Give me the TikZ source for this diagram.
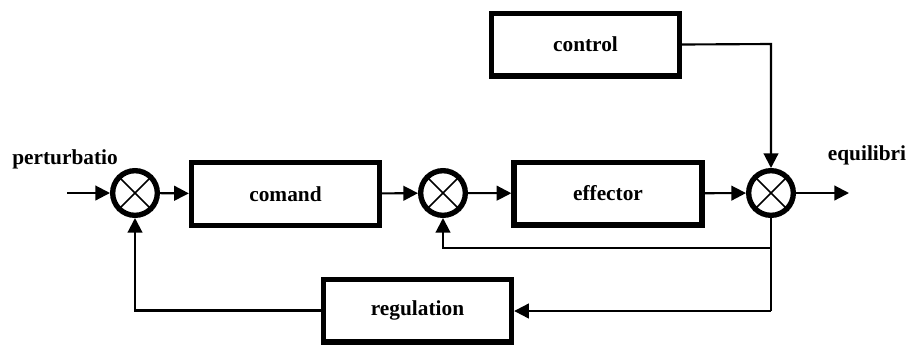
\documentclass[tikz,border=0pt]{standalone}
\usepackage{fontspec}
\setmainfont{Liberation Serif}
\usepackage{tikz}
\usetikzlibrary{arrows.meta}

\begin{document}
\begin{tikzpicture}[
      x=0.75pt, y=-0.75pt,
      every node/.style={font=\fontsize{16}{18}\selectfont\bfseries},
      box/.style={draw, line width=4pt, minimum width=141pt,
                  minimum height=47pt, inner sep=0pt},
      sum/.style={circle, draw, line width=4pt, minimum size=33.5pt,
                  inner sep=0pt},
      arr/.style={-{Triangle[length=11pt, width=11pt]}, line width=1.6pt},
      wire/.style={line width=1.6pt},
      cross/.style={line width=1.2pt},
    ]
    \useasboundingbox (0,0) rectangle (909,344);

    %% Main chain
    \node[sum] (sum1) at (135,193) {};
    \node[box] (comand)   at (285.5,194) {comand};
    \node[sum] (sum2) at (443,193) {};
    \node[box] (effector) at (608,193.5) {effector};
    \node[sum] (sum3) at (771,193) {};

    %% Control and regulation blocks
    \node[box] (control)    at (585.5,44.5) {control};
    \node[box] (regulation) at (417.5,310.5) {regulation};

    %% Texts
    \node (pert)  at (65,159)  {perturbatio};
    \node (equil) at (867,155) {equilibri};

    %% Crosses in the summing points
    \foreach \s in {sum1,sum2,sum3} {
      \draw[cross] (\s.north east) -- (\s.south west);
      \draw[cross] (\s.north west) -- (\s.south east);
    }

    %% Free ends and corners
    \coordinate (in)    at (67,193);
    \coordinate (out)   at (849,193);
    \coordinate (ctrlc) at (771,44);
    \coordinate (fbin)  at (771,248);
    \coordinate (fbout) at (771,311);

    %% Forward path
    \draw[arr] (in)       -- (sum1);
    \draw[arr] (sum1)     -- (comand);
    \draw[arr] (comand)   -- (sum2);
    \draw[arr] (sum2)     -- (effector);
    \draw[arr] (effector) -- (sum3);
    \draw[arr] (sum3)     -- (out);

    %% Control input
    \draw[arr] (control.east) -- (ctrlc) -- (sum3.north);

    %% Inner feedback
    \draw[wire] (sum3.south) -- (fbout);
    \draw[arr] (fbin) -| (sum2.south);

    %% Outer feedback through regulation
    \draw[arr] (fbout) -- (fbout -| regulation.east);
    \draw[arr] (regulation.west) -| (sum1.south);
  \end{tikzpicture}
\end{document}
